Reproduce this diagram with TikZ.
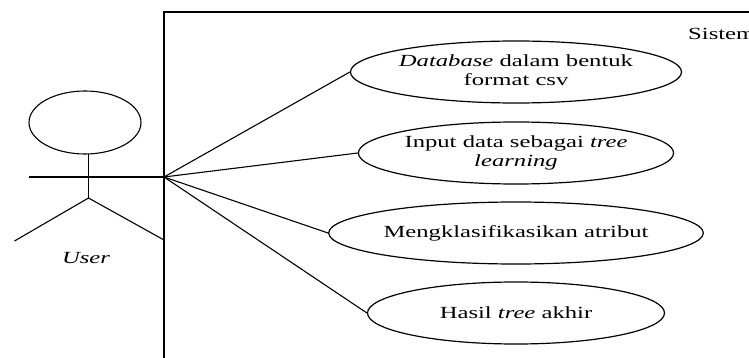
\documentclass[tikz,border=0pt]{standalone}
\usepackage{fontspec}
\usepackage{graphicx}
\setmainfont{Liberation Serif}
\usetikzlibrary{shapes.geometric}
% text is set wider than its natural shape
\newcommand{\wide}[1]{\scalebox{1.45}[1]{#1}}
\newcommand{\twolines}[2]{\wide{\begin{tabular}{@{}c@{}}#1\\#2\end{tabular}}}
\begin{document}
\begin{tikzpicture}[x=1pt,y=-1pt,
  line/.style={line width=1.1pt, black},
  frame/.style={line width=1.6pt, black},
  txt/.style={font=\fontsize{17}{19}\selectfont, inner sep=0pt},
  usecase/.style={draw, line width=1.2pt, ellipse, inner sep=0pt,
    minimum width=297pt, minimum height=62pt, font=\fontsize{17}{19}\selectfont}]
\useasboundingbox (0,0) rectangle (749,358);

% system boundary
\coordinate (sysbl) at (164,370);
\coordinate (systl) at (164,12);
\coordinate (systr) at (760,12);
\draw[frame] (sysbl) -- (systl) -- (systr);
\node[txt, anchor=base west] (sys) at (688,40) {\wide{Sistem}};

% actor
\node[draw, line width=1.1pt, ellipse, minimum width=112pt, minimum height=63pt, inner sep=0pt] (head) at (85,122.5) {};
\coordinate (neck) at (88.5,154);
\coordinate (hip) at (88.5,198);
\coordinate (lhand) at (29,177);
\coordinate (hand) at (164,177);
\coordinate (lfoot) at (14.5,241);
\coordinate (rfoot) at (164,240);
\draw[line] (neck) -- (hip);
\draw[line] (lhand) -- (hand);
\draw[line] (lfoot) -- (hip) -- (rfoot);
\node[txt, font=\fontsize{17}{19}\selectfont\itshape] (user) at (86,258) {\wide{User}};

% use cases
\node[usecase] (uc1) at (516,72) {\raisebox{-2pt}{\twolines{\textit{Database} dalam bentuk}{format csv}}};
\node[usecase] (uc2) at (516,153) {\raisebox{-2pt}{\twolines{Input data sebagai \textit{tree}}{\textit{learning}}}};
\node[usecase] (uc3) at (516,233) {\wide{Mengklasifikasikan atribut}};
\node[usecase] (uc4) at (516,313) {\wide{Hasil \textit{tree} akhir}};

% associations
\foreach \u in {uc1,uc2,uc3,uc4}
  \draw[line] (hand) -- (\u.west);
\end{tikzpicture}
\end{document}
